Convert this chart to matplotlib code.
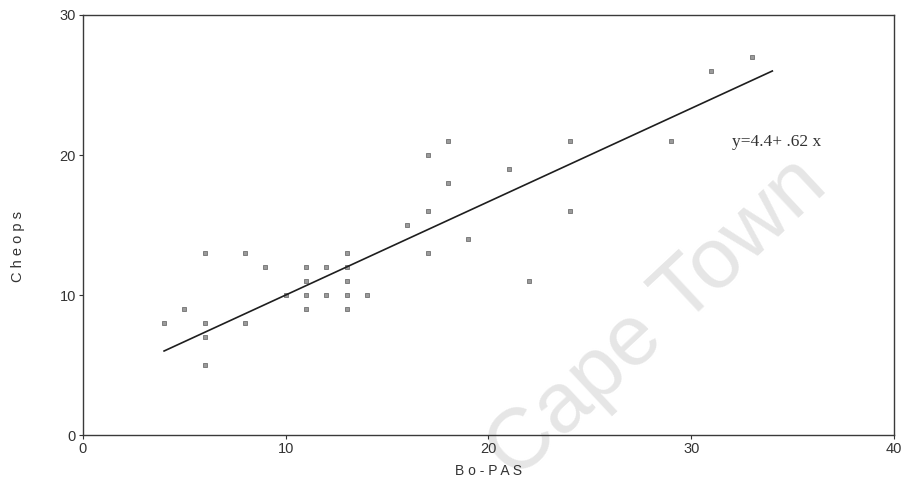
import matplotlib
matplotlib.use("Agg")
import matplotlib.pyplot as plt

# scatter values
bo_pas = [4, 5, 6, 6, 6, 6, 8, 8, 9, 10, 11, 11, 11, 11, 12, 12, 13, 13, 13,
          13, 13, 14, 16, 17, 17, 17, 18, 18, 19, 21, 22, 24, 24, 29, 31, 33]
cheops = [8, 9, 13, 8, 7, 5, 13, 8, 12, 10, 12, 11, 10, 9, 12, 10, 13, 12, 11,
          10, 9, 10, 15, 20, 16, 13, 21, 18, 14, 19, 11, 21, 16, 21, 26, 27]

# fitted line as drawn (end points)
fit_x = [4, 34]
fit_y = [6.0, 26.0]
equation = "y=4.4+ .62 x"

x_ticks = [0, 10, 20, 30, 40]
y_ticks = [0, 10, 20, 30]

plt.rcParams["font.family"] = ["Liberation Sans", "DejaVu Sans"]

fig = plt.figure(figsize=(9.01, 4.95), dpi=100)
ax = fig.add_axes([0.0921, 0.1212, 0.9001, 0.8485])

ax.plot(bo_pas, cheops, linestyle="none", marker="s", markersize=3.4,
        markerfacecolor="#9a9a9a", markeredgecolor="#707070",
        markeredgewidth=0.6, zorder=3)
ax.plot(fit_x, fit_y, color="#1e1e1e", linewidth=1.2, zorder=4)

ax.text(32.0, 20.9, equation, family=["Liberation Serif", "DejaVu Serif"],
        fontsize=12.5, color="#333333", va="center", ha="left")

ax.set_xlim(0, 40)
ax.set_ylim(0, 30)
ax.set_xticks(x_ticks)
ax.set_yticks(y_ticks)
ax.tick_params(axis="both", direction="out", length=3, width=0.8,
               labelsize=10.5, colors="#333333", pad=2)
for s in ax.spines.values():
    s.set_color("#3a3a3a")
    s.set_linewidth(1.0)

ax.set_xlabel("B o - P A S", fontsize=10, color="#333333", labelpad=6)
ax.set_ylabel("C h e o p s", fontsize=10.5, color="#333333")
ax.yaxis.set_label_coords(-0.072, 0.45)

# scanned watermark, kept behind the axis labels
ax.text(0.73, 0.355, "Cape Town", transform=fig.transFigure, fontsize=62,
        color="#e6e6e6", rotation=43, ha="center", va="center", zorder=0,
        clip_on=False)

fig.savefig("out.png", dpi=100)
